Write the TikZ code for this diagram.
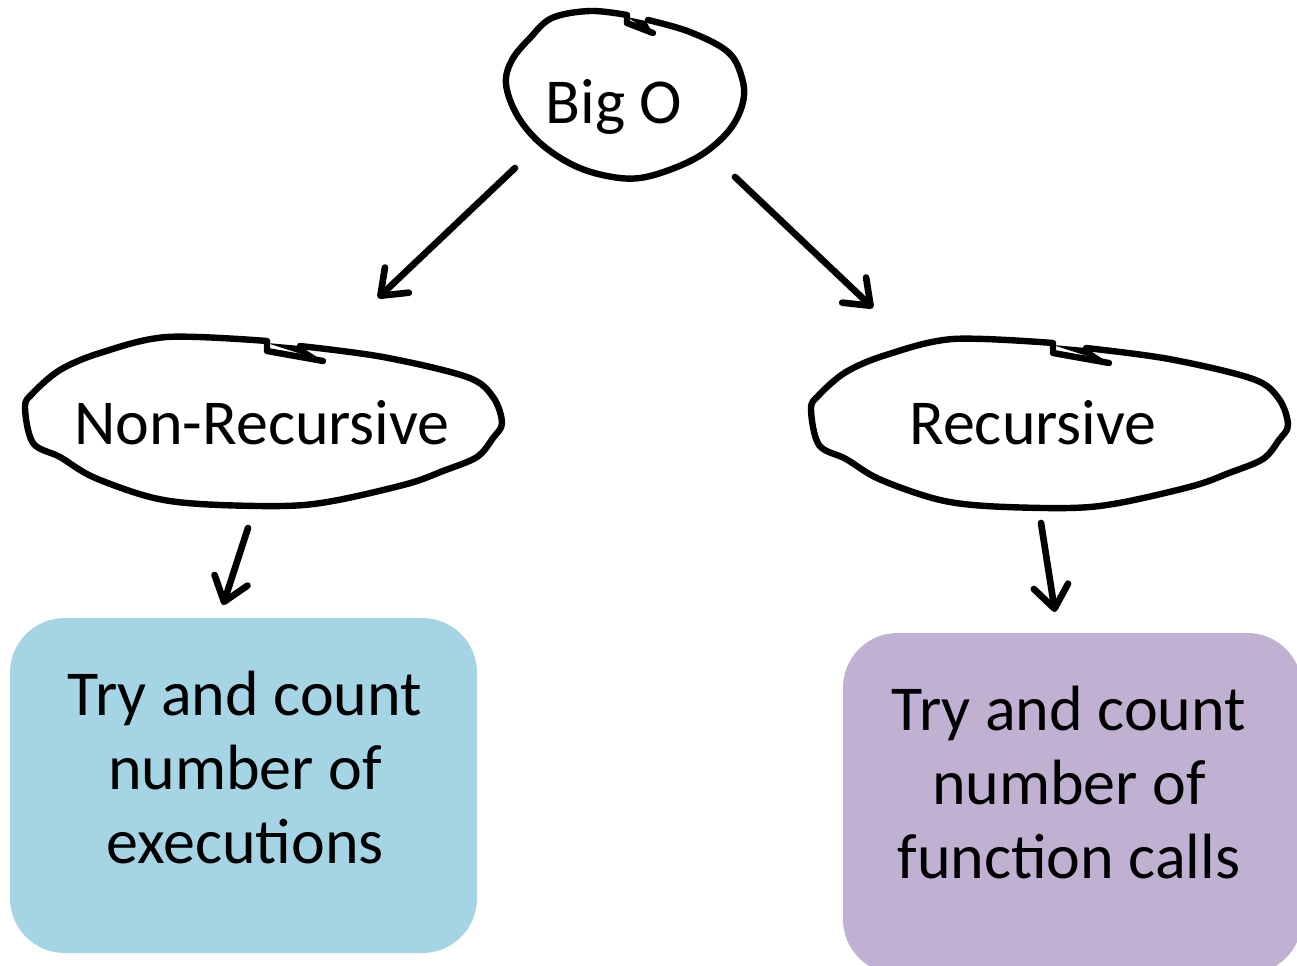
\documentclass[tikz,border=0pt]{standalone}
\usepackage{fontspec}
\setmainfont{Carlito}
\usetikzlibrary{arrows.meta}
\definecolor{boxblue}{HTML}{A5D5E4}
\definecolor{boxpurple}{HTML}{C0B1D2}
\begin{document}
\begin{tikzpicture}[x=0.75pt,y=-0.75pt,
  blob/.style={line width=4.8pt,line cap=round,line join=round},
  label/.style={font=\fontsize{48}{55.5}\selectfont,inner sep=0pt},
  pointer/.style={line width=5pt,line cap=round,
    -{Straight Barb[length=17pt,width=26pt,line cap=round,line join=round]}},
  card/.style={rounded corners=41pt,draw=none}]
\useasboundingbox (0,0) rectangle (1297,966);
\clip (0,0) rectangle (1297,966);

% hand-drawn outlines
\draw[blob] plot[smooth,tension=0.6] coordinates {(648,20) (690,32) (728,52) (742,78)
  (743,102) (731,128) (707,151) (677,167) (640,178) (607,176) (573,165) (540,143)
  (517,115) (506,84) (512,60) (530,38) (552,18) (590,11) (627,15)}
  -- (627,23) -- (653,33);
\fill (627,17) -- (653,34) -- (646,21) -- cycle;
\foreach \dx/\dy in {0/0,786/2}{
  \begin{scope}[shift={(\dx,\dy)}]
  \draw[blob] plot[smooth,tension=0.55] coordinates {(300,346) (383,357) (467,377)
    (493,397) (502,423) (493,438) (477,457) (443,471) (407,484) (333,501) (283,506)
    (200,504) (150,497) (93,477) (60,457) (33,443) (25,407) (33,393) (60,370)
    (100,353) (167,337) (267,341)} -- (267,351) -- (323,361);
  \fill (267,343) -- (323,361) -- (300,346) -- cycle;
  \end{scope}}

% coloured cards
\fill[card,boxblue] (10,618) rectangle (477,953);
\fill[card,boxpurple] (843,633) rectangle (1302,974);

% labels
\node[label,anchor=base] (bigo) at (614,124) {Big O};
\node[label,anchor=base] (nonrec) at (262,445) {Non-Recursive};
\node[label,anchor=base] (rec) at (1033,445) {Recursive};
\node[label,align=center] (count) at (245,768) {Try and count\\number of\\executions};
\node[label,align=center] (calls) at (1069,783) {Try and count\\number of\\function calls};

% connector end points
\coordinate (a1) at (515,168); \coordinate (a2) at (378,298);
\coordinate (b1) at (735,177); \coordinate (b2) at (873,308);
\coordinate (c1) at (248,528); \coordinate (c2) at (223,605);
\coordinate (d1) at (1041,523); \coordinate (d2) at (1055,612);
\draw[pointer] (a1) -- (a2);
\draw[pointer] (b1) -- (b2);
\draw[pointer] (c1) -- (c2);
\draw[pointer] (d1) -- (d2);
\end{tikzpicture}
\end{document}
